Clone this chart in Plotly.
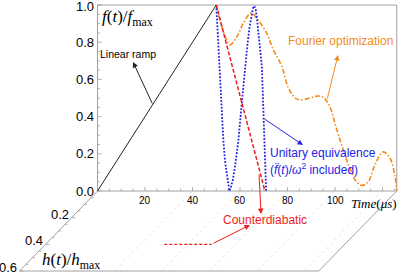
import plotly.graph_objects as go

# ---------------- data ----------------
ramp_t = [0, 50]
ramp_f = [0, 1]

cd_t = [50, 60, 70.5]
cd_f = [1, 0.51, 0]
cd_floor_t = [50, 70]
cd_floor_h = [0.4, 0.4]

ue_t = [50, 50.4, 50.8, 51.3, 51.8, 52.4, 53, 53.7, 54.5, 55, 55.5, 56, 57, 58.2, 59.3, 60.3, 61.2,
        62.1, 62.9, 64, 65, 65.5, 66, 66.6, 67.2, 68.2, 69.2, 69.8, 70.2, 70.5, 70.8, 71]
ue_f = [1, 0.9, 0.8, 0.65, 0.5, 0.38, 0.27, 0.16, 0.075, 0.03, 0.0, 0.015, 0.06, 0.16, 0.27, 0.41, 0.54,
        0.66, 0.76, 0.88, 0.957, 0.985, 0.995, 0.975, 0.92, 0.8, 0.67, 0.45, 0.27, 0.1, 0.03, 0]

fo_t = [50, 52.8, 55, 55.8, 58.7, 61.3, 64.2, 65, 67.6, 71.2, 74, 77.6, 80.2, 83.2, 85.3,
        89.5, 92.4, 95, 97.9, 100.5, 103, 106, 109, 111.4, 114, 116.8, 120.2, 123, 125.3, 126]
fo_f = [1, 0.865, 0.795, 0.785, 0.83, 0.9, 0.955, 0.957, 0.92, 0.85, 0.76, 0.67, 0.56, 0.5, 0.49,
        0.5, 0.51, 0.505, 0.45, 0.34, 0.24, 0.13, 0.05, 0.03, 0.05, 0.14, 0.21, 0.18, 0.075, 0]

f_ticks = [0.0, 0.2, 0.4, 0.6, 0.8, 1.0]
f_tick_labels = ["0.0", "0.2", "0.4", "0.6", "0.8", "1.0"]
t_ticks = [20, 40, 60, 80, 100]
t_tick_labels = ["20", "40", "60", "80", "100"]
h_ticks = [0.2, 0.4, 0.6]
h_tick_labels = ["0.2", "0.4", "0.6"]
floor_grid_t = [40, 60, 80, 100, 120]

T_MAX = 126
H_MAX = 0.6

# ---------------- geometry ----------------
W, H = 398, 272
PX0, PY0 = 97.5, 191.0    # pixel of origin
SX, SY = 2.375, 186.0     # pixels per time unit / per f unit
HDX, HDY = -130.0, 133.33  # pixels per h unit on floor

def fl(t, h):
    return t + h * HDX / SX, -h * HDY / SY

def pt(px, py):
    return (px - PX0) / SX, (PY0 - py) / SY

def ddx(px):
    return px / SX

def ddy(py):
    return py / SY

GRAY = "#a0a0a0"
BLUE = "#2323e6"
ORANGE = "#f28c1e"
RED = "#ee1c1c"

fig = go.Figure()

def seg(xs, ys, color, width=1, dash="solid", shape="linear"):
    fig.add_trace(go.Scatter(x=xs, y=ys, mode="lines",
                             line=dict(color=color, width=width, dash=dash, shape=shape),
                             hoverinfo="skip", showlegend=False))

# floor grid lines
gx, gy = [], []
for t in floor_grid_t:
    a = fl(t, 0); b = fl(t, H_MAX)
    gx += [a[0], b[0], None]; gy += [a[1], b[1], None]
seg(gx, gy, "#dcdcdc", 0.8, "dot")

# floor frame
a = fl(0, 0); b = fl(0, H_MAX); c = fl(T_MAX, H_MAX); d = fl(T_MAX, 0)
seg([a[0], b[0], c[0], d[0]], [a[1], b[1], c[1], d[1]], GRAY, 1)

# back frame
seg([0, 0, T_MAX, T_MAX], [0, 1, 1, 0], GRAY, 1)
seg([0, T_MAX], [0, 0], GRAY, 1)

# ticks on time axis
tx, ty = [], []
for i in range(0, T_MAX // 5 + 1):
    t = i * 5
    L = 4 if t % 20 == 0 else 2.5
    tx += [t, t, None]; ty += [0, ddy(L), None]
seg(tx, ty, GRAY, 0.8)

# ticks on f axis
fx, fy = [], []
for i in range(0, 21):
    f = i * 0.05
    L = 4 if i % 4 == 0 else 2.5
    fx += [0, ddx(L), None]; fy += [f, f, None]
seg(fx, fy, GRAY, 0.8)

# ticks on h axis
hx, hy = [], []
for i in range(1, 13):
    h = i * 0.05
    p = fl(0, h)
    L = 4 if i % 4 == 0 else 2.5
    hx += [p[0], p[0] + ddx(L), None]; hy += [p[1], p[1], None]
seg(hx, hy, GRAY, 0.8)

# curves
seg(ramp_t, ramp_f, "#222222", 1)
seg(fo_t, fo_f, ORANGE, 1.6, "5px,2px,1.5px,2px", "spline")
seg(ue_t, ue_f, BLUE, 1.8, "1.8px,1.6px")
seg(cd_t, cd_f, RED, 1.5, "4px,2px")
cfx, cfy = zip(*[fl(t, h) for t, h in zip(cd_floor_t, cd_floor_h)])
seg(list(cfx), list(cfy), RED, 1.2, "3px,2px")

ann = []
SANS = "Liberation Sans, Arial, sans-serif"
SERIF = "Liberation Serif, Times New Roman, serif"

def text(x, y, s, size, color="#000", font=SANS, xanchor="center", yanchor="middle"):
    ann.append(dict(x=x, y=y, xref="x", yref="y", text=s, showarrow=False,
                    font=dict(size=size, color=color, family=font),
                    xanchor=xanchor, yanchor=yanchor))

def arrow(tail, head, color):
    ann.append(dict(x=head[0], y=head[1], ax=tail[0], ay=tail[1], xref="x", yref="y",
                    axref="x", ayref="y", text="", showarrow=True, arrowhead=2,
                    arrowsize=1.1, arrowwidth=1, arrowcolor=color))

# tick labels
for f, s in zip(f_ticks, f_tick_labels):
    text(ddx(-2), f - (ddy(1) if f == 1.0 else 0), s, 13, "#000", SANS, "right")
for t, s in zip(t_ticks, t_tick_labels):
    text(t, -ddy(9), s, 10, "#000", SANS, "center")
for h, s in zip(h_ticks, h_tick_labels):
    p = fl(0, h)
    text(p[0] - ddx(1), p[1] + ddy(3.5), s, 13, "#000", SANS, "right")

# axis titles
x_, y_ = pt(100, 18)
text(x_, y_, "<i>f</i>(<i>t</i>)/<i>f</i><sub>max</sub>", 17, "#000", SERIF, "left")
x_, y_ = pt(40, 261)
text(x_, y_, "<i>h</i>(<i>t</i>)/<i>h</i><sub>max</sub>", 17, "#000", SERIF, "left")
x_, y_ = pt(349, 203)
text(x_, y_, "<i>Time</i>(<i>μs</i>)", 13, "#000", SERIF, "left")

# curve labels
x_, y_ = pt(128, 54)
text(x_, y_, "Linear ramp", 10.5, "#000")
x_, y_ = pt(340, 41)
text(x_, y_, "Fourier optimization", 12, ORANGE)
x_, y_ = pt(268, 153)
text(x_, y_, "Unitary equivalence", 12, BLUE, SANS, "left")
x_, y_ = pt(268, 169)
text(x_, y_, "(<i>f̈</i>(<i>t</i>)/<i>ω</i><sup>2</sup> included)", 12, BLUE, SANS, "left")
x_, y_ = pt(265, 220)
text(x_, y_, "Counterdiabatic", 12, RED)

# arrows
arrow(pt(153, 105), pt(133, 62), "#222222")
arrow(pt(327, 100), pt(338, 55), ORANGE)
arrow(pt(263, 118), pt(303, 145), BLUE)
arrow(pt(259, 173), pt(261, 214), RED)
arrow(pt(212, 244), pt(250, 225), RED)

x0, _ = pt(0, 0); x1, _ = pt(W, 0)
_, y1 = pt(0, 0); _, y0 = pt(0, H)

fig.update_layout(
    width=W, height=H, margin=dict(l=0, r=0, t=0, b=0),
    paper_bgcolor="white", plot_bgcolor="white",
    xaxis=dict(range=[x0, x1], visible=False, fixedrange=True),
    yaxis=dict(range=[y0, y1], visible=False, fixedrange=True),
    annotations=ann, showlegend=False,
)
fig.write_html("out.html", config={"displayModeBar": False},
               post_script="document.body.style.margin='0';document.body.style.overflow='hidden';")
